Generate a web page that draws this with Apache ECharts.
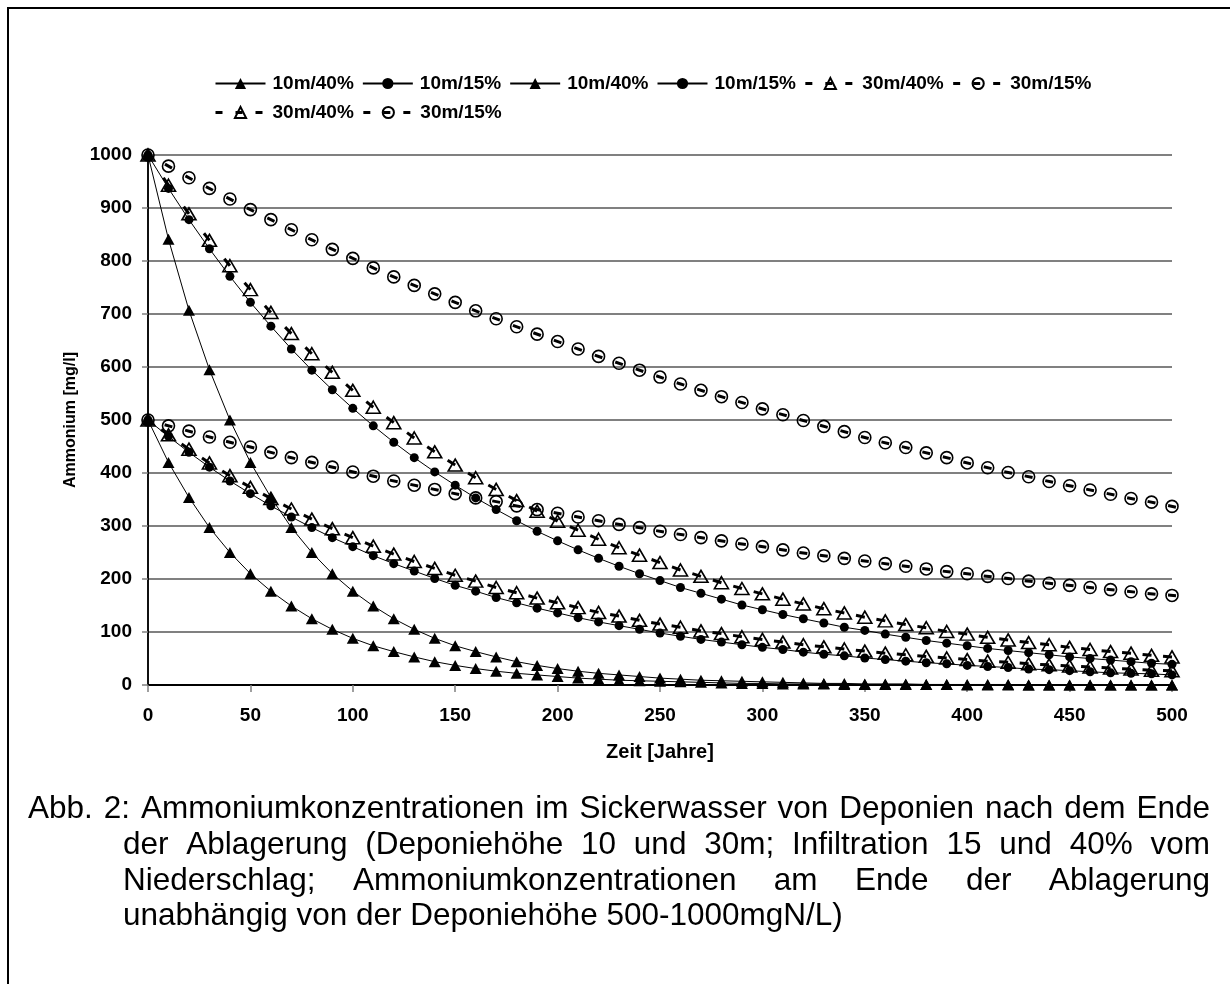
<!DOCTYPE html>
<html lang="de">
<head>
<meta charset="UTF-8">
<title>Ammoniumkonzentrationen</title>
<style>
  html, body { margin: 0; padding: 0; background: #fff; }
  #main { width: 1230px; height: 984px; }
</style>
</head>
<body>
<div id="main"></div>
<script src="https://cdn.jsdelivr.net/npm/echarts@6/dist/echarts.min.js"></script>
<script>
// Zeit [Jahre]
var years = [0, 10, 20, 30, 40, 50, 60, 70, 80, 90, 100, 110, 120, 130, 140, 150, 160, 170, 180, 190,
  200, 210, 220, 230, 240, 250, 260, 270, 280, 290, 300, 310, 320, 330, 340, 350, 360, 370, 380, 390,
  400, 410, 420, 430, 440, 450, 460, 470, 480, 490, 500];

// Ammonium [mg/l]
var h10i40a = [1000, 841, 707, 595, 500, 420, 354, 297, 250, 210, 177, 149, 125, 105, 88, 74, 63, 53, 44, 37,
  31, 26, 22, 19, 16, 13, 11, 9, 8, 7, 6, 5, 4, 3, 3, 2, 2, 2, 1, 1, 1, 1, 1, 0, 0, 0, 0, 0, 0, 0, 0];
var h10i15a = [1000, 937, 878, 823, 771, 722, 677, 634, 594, 557, 522, 489, 458, 429, 402, 377, 353, 331, 310, 290,
  272, 255, 239, 224, 210, 197, 184, 173, 162, 151, 142, 133, 125, 117, 109, 103, 96, 90, 84, 79,
  74, 69, 65, 61, 57, 53, 50, 47, 44, 41, 39];
var h10i40b = [500, 420, 354, 297, 250, 210, 177, 149, 125, 105, 88, 74, 63, 53, 44, 37, 31, 26, 22, 19,
  16, 13, 11, 9, 8, 7, 6, 5, 4, 3, 3, 2, 2, 2, 1, 1, 1, 1, 1, 1, 0, 0, 0, 0, 0, 0, 0, 0, 0, 0, 0];
var h10i15b = [500, 469, 439, 411, 385, 361, 338, 317, 297, 278, 261, 244, 229, 215, 201, 188, 177, 165, 155, 145,
  136, 127, 119, 112, 105, 98, 92, 86, 81, 76, 71, 67, 62, 58, 55, 51, 48, 45, 42, 40,
  37, 35, 33, 30, 29, 27, 25, 23, 22, 21, 19];
var h30i40a = [1000, 943, 889, 839, 791, 746, 703, 663, 625, 590, 556, 524, 495, 466, 440, 415, 391, 369, 348, 328,
  309, 292, 275, 259, 245, 231, 217, 205, 193, 182, 172, 162, 153, 144, 136, 128, 121, 114, 108, 101,
  96, 90, 85, 80, 76, 71, 67, 63, 60, 56, 53];
var h30i15a = [1000, 979, 957, 937, 917, 897, 878, 859, 840, 822, 805, 787, 770, 754, 738, 722, 706, 691, 676, 662,
  648, 634, 620, 607, 594, 581, 568, 556, 544, 533, 521, 510, 499, 488, 478, 467, 457, 448, 438, 429,
  419, 410, 401, 393, 384, 376, 368, 360, 352, 345, 337];
var h30i40b = [500, 472, 445, 419, 395, 373, 352, 332, 313, 295, 278, 262, 247, 233, 220, 207, 196, 184, 174, 164,
  155, 146, 137, 130, 122, 115, 109, 102, 97, 91, 86, 81, 76, 72, 68, 64, 60, 57, 54, 51,
  48, 45, 43, 40, 38, 36, 34, 32, 30, 28, 27];
var h30i15b = [500, 489, 479, 468, 458, 449, 439, 429, 420, 411, 402, 394, 385, 377, 369, 361, 353, 346, 338, 331,
  324, 317, 310, 303, 297, 290, 284, 278, 272, 266, 261, 255, 249, 244, 239, 234, 229, 224, 219, 214,
  210, 205, 201, 196, 192, 188, 184, 180, 176, 172, 169];

var captionLines = [
  'Abb. 2: Ammoniumkonzentrationen im Sickerwasser von Deponien nach dem Ende',
  'der Ablagerung (Deponiehöhe 10 und 30m; Infiltration 15 und 40% vom',
  'Niederschlag; Ammoniumkonzentrationen am Ende der Ablagerung',
  'unabhängig von der Deponiehöhe 500-1000mgN/L)'
];

var FONT = '"Liberation Sans", Arial, sans-serif';
var chart = echarts.init(document.getElementById('main'));

function pairs(vals) {
  return years.map(function (t, i) { return [t, vals[i]]; });
}

function solidSeries(name, vals, symbol, size) {
  return {
    type: 'line', name: name, data: pairs(vals),
    symbol: symbol, symbolSize: size, showAllSymbol: true,
    lineStyle: { color: '#000', width: 1 },
    itemStyle: { color: '#000' },
    z: 2
  };
}

// open markers, line itself is only shown as short dashes (see dashSeries)
function openSeries(name, vals, symbol, size) {
  return {
    type: 'line', name: name, data: pairs(vals),
    symbol: symbol, symbolSize: size, showAllSymbol: true,
    lineStyle: { color: '#000', width: 3, opacity: 0 },
    itemStyle: { color: 'rgba(255,255,255,0)', borderColor: '#000', borderWidth: 1.6 },
    z: 3
  };
}

// the dashed excel line leaves one short dash per marker
function dashSeries(vals, back, fwd, centred) {
  return {
    type: 'custom', name: 'dash', data: pairs(vals), encode: { x: 0, y: 1 },
    silent: true, z: 4,
    renderItem: function (params, api) {
      var i = params.dataIndex;
      if (i === 0) return null;
      var p = api.coord([years[i], vals[i]]);
      var q = api.coord([years[i - 1], vals[i - 1]]);
      var n = (centred && i < vals.length - 1) ? api.coord([years[i + 1], vals[i + 1]]) : p;
      var dx = n[0] - q[0], dy = n[1] - q[1];
      var len = Math.sqrt(dx * dx + dy * dy) || 1;
      dx /= len; dy /= len;
      return {
        type: 'line',
        shape: { x1: p[0] - dx * back, y1: p[1] - dy * back, x2: p[0] + dx * fwd, y2: p[1] + dy * fwd },
        style: { stroke: '#000', lineWidth: 3 }
      };
    }
  };
}

var dashLegend = { type: [7, 13], width: 3, color: '#000', opacity: 1 };

function plain(v) { return String(v); }

// caption, justified like the word document
function captionGraphic() {
  var ctx = document.createElement('canvas').getContext('2d');
  var font = '31.5px ' + FONT;
  ctx.font = font;
  var els = [];
  var starts = [28, 123, 123, 123];
  var baselines = [820, 856, 892, 927];
  var right = 1210;
  captionLines.forEach(function (line, li) {
    var words = line.split(' ');
    var widths = words.map(function (w) { return ctx.measureText(w).width; });
    var total = widths.reduce(function (a, b) { return a + b; }, 0);
    var gap = ctx.measureText(' ').width;
    if (li < captionLines.length - 1 && words.length > 1) {
      gap = (right - starts[li] - total) / (words.length - 1);
    }
    var x = starts[li];
    words.forEach(function (w, wi) {
      els.push({
        type: 'text', x: x, y: baselines[li] - 11,
        style: { text: w, font: font, fill: '#000', textAlign: 'left', textVerticalAlign: 'middle' }
      });
      x += widths[wi] + gap;
    });
  });
  return els;
}

var option = {
  animation: false,
  backgroundColor: '#fff',
  grid: { left: 148, right: 58, top: 155, bottom: 299, outerBoundsMode: 'none' },
  legend: {
    left: 209, top: 68, width: 900,
    itemWidth: 50, itemHeight: 14, itemGap: 8,
    selectedMode: false,
    formatter: function (name) { return name.split('#')[0]; },
    textStyle: { fontFamily: FONT, fontSize: 19, fontWeight: 'bold', color: '#000', lineHeight: 21, padding: [0, 0, 0, 2] },
    data: [
      { name: '10m/40%' }, { name: '10m/15%' }, { name: '10m/40%#2' }, { name: '10m/15%#2' },
      { name: '30m/40%', lineStyle: dashLegend }, { name: '30m/15%', lineStyle: dashLegend },
      { name: '30m/40%#2', lineStyle: dashLegend }, { name: '30m/15%#2', lineStyle: dashLegend }
    ]
  },
  xAxis: [{
    type: 'value', min: 0, max: 500, interval: 50,
    name: 'Zeit [Jahre]', nameLocation: 'middle', nameGap: 57,
    nameTextStyle: { fontFamily: FONT, fontSize: 20, fontWeight: 'bold', color: '#000' },
    axisLine: { show: true, lineStyle: { color: '#000', width: 2 } },
    axisTick: { show: true, length: 7, lineStyle: { color: '#808080', width: 1.5 } },
    axisLabel: { margin: 21, formatter: plain, fontFamily: FONT, fontSize: 19, fontWeight: 'bold', color: '#000' },
    splitLine: { show: false }
  }, {
    type: 'value', min: 0, max: 500, position: 'top',
    axisLine: { show: true, lineStyle: { color: '#000', width: 2 } },
    axisTick: { show: false }, axisLabel: { show: false }, splitLine: { show: false }
  }],
  yAxis: [{
    type: 'value', min: 0, max: 1000, interval: 100,
    name: 'Ammonium [mg/l]', nameLocation: 'middle', nameGap: 58,
    nameTextStyle: { fontFamily: FONT, fontSize: 16, fontWeight: 'bold', color: '#000' },
    axisLine: { show: true, lineStyle: { color: '#000', width: 1.5 } },
    axisTick: { show: true, length: 6, lineStyle: { color: '#808080', width: 1.5 } },
    axisLabel: { margin: 16, formatter: plain, fontFamily: FONT, fontSize: 19, fontWeight: 'bold', color: '#000' },
    splitLine: { show: true, lineStyle: { color: '#808080', width: 2 } }
  }, {
    type: 'value', min: 0, max: 1000, position: 'right',
    axisLine: { show: true, lineStyle: { color: '#000', width: 1.5 } },
    axisTick: { show: false }, axisLabel: { show: false }, splitLine: { show: false }
  }],
  graphic: [{
    type: 'rect', z: -10, silent: true,
    shape: { x: 8, y: 8, width: 1260, height: 1020 },
    style: { fill: 'none', stroke: '#000', lineWidth: 2 }
  }].concat(captionGraphic()),
  series: [
    solidSeries('10m/40%', h10i40a, 'triangle', [12, 11]),
    solidSeries('10m/15%', h10i15a, 'circle', 9),
    solidSeries('10m/40%#2', h10i40b, 'triangle', [12, 11]),
    solidSeries('10m/15%#2', h10i15b, 'circle', 9),
    openSeries('30m/40%', h30i40a, 'triangle', [14, 12]),
    openSeries('30m/15%', h30i15a, 'circle', 12),
    openSeries('30m/40%#2', h30i40b, 'triangle', [14, 12]),
    openSeries('30m/15%#2', h30i15b, 'circle', 12),
    dashSeries(h30i40a, 9, 0, false),
    dashSeries(h30i15a, 4, 4, true),
    dashSeries(h30i40b, 9, 0, false),
    dashSeries(h30i15b, 4, 4, true)
  ]
};

chart.setOption(option);
</script>
</body>
</html>
